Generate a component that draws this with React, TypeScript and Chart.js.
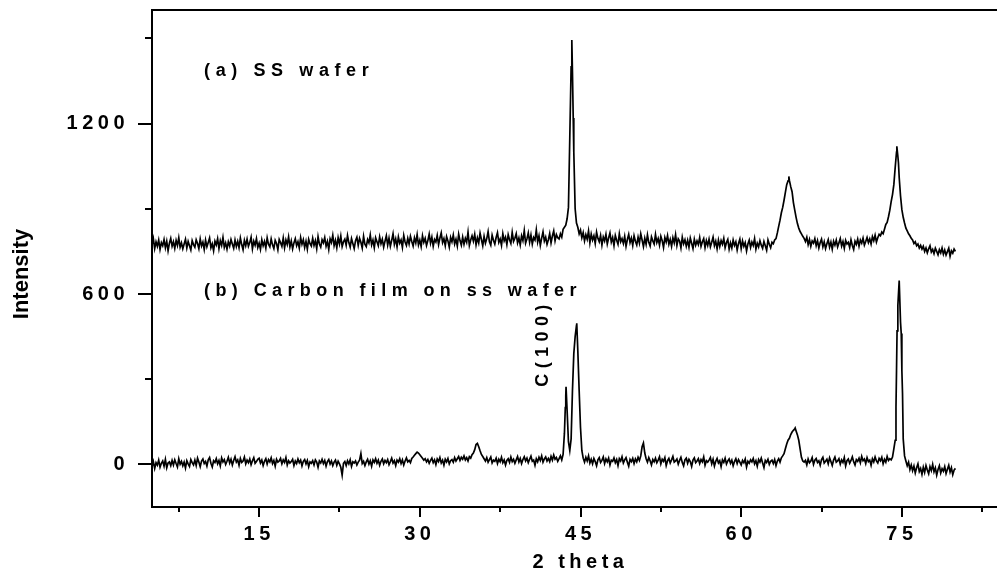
import React, { useEffect, useRef } from 'react';
import { Chart, registerables } from 'chart.js';

Chart.register(...registerables);

const FONT = '"Liberation Sans", Arial, Helvetica, sans-serif';

// 2-theta scan grid (degrees)
const scanAngles = [
  5, 5.125, 5.25, 5.375, 5.5, 5.625, 5.75, 5.875,
  6, 6.125, 6.25, 6.375, 6.5, 6.625, 6.75, 6.875,
  7, 7.125, 7.25, 7.375, 7.5, 7.625, 7.75, 7.875,
  8, 8.125, 8.25, 8.375, 8.5, 8.625, 8.75, 8.875,
  9, 9.125, 9.25, 9.375, 9.5, 9.625, 9.75, 9.875,
  10, 10.125, 10.25, 10.375, 10.5, 10.625, 10.75, 10.875,
  11, 11.125, 11.25, 11.375, 11.5, 11.625, 11.75, 11.875,
  12, 12.125, 12.25, 12.375, 12.5, 12.625, 12.75, 12.875,
  13, 13.125, 13.25, 13.375, 13.5, 13.625, 13.75, 13.875,
  14, 14.125, 14.25, 14.375, 14.5, 14.625, 14.75, 14.875,
  15, 15.125, 15.25, 15.375, 15.5, 15.625, 15.75, 15.875,
  16, 16.125, 16.25, 16.375, 16.5, 16.625, 16.75, 16.875,
  17, 17.125, 17.25, 17.375, 17.5, 17.625, 17.75, 17.875,
  18, 18.125, 18.25, 18.375, 18.5, 18.625, 18.75, 18.875,
  19, 19.125, 19.25, 19.375, 19.5, 19.625, 19.75, 19.875,
  20, 20.125, 20.25, 20.375, 20.5, 20.625, 20.75, 20.875,
  21, 21.125, 21.25, 21.375, 21.5, 21.625, 21.75, 21.875,
  22, 22.125, 22.25, 22.375, 22.5, 22.625, 22.75, 22.875,
  23, 23.125, 23.25, 23.375, 23.5, 23.625, 23.75, 23.875,
  24, 24.125, 24.25, 24.375, 24.5, 24.625, 24.75, 24.875,
  25, 25.125, 25.25, 25.375, 25.5, 25.625, 25.75, 25.875,
  26, 26.125, 26.25, 26.375, 26.5, 26.625, 26.75, 26.875,
  27, 27.125, 27.25, 27.375, 27.5, 27.625, 27.75, 27.875,
  28, 28.125, 28.25, 28.375, 28.5, 28.625, 28.75, 28.875,
  29, 29.125, 29.25, 29.375, 29.5, 29.625, 29.75, 29.875,
  30, 30.125, 30.25, 30.375, 30.5, 30.625, 30.75, 30.875,
  31, 31.125, 31.25, 31.375, 31.5, 31.625, 31.75, 31.875,
  32, 32.125, 32.25, 32.375, 32.5, 32.625, 32.75, 32.875,
  33, 33.125, 33.25, 33.375, 33.5, 33.625, 33.75, 33.875,
  34, 34.125, 34.25, 34.375, 34.5, 34.625, 34.75, 34.875,
  35, 35.125, 35.25, 35.375, 35.5, 35.625, 35.75, 35.875,
  36, 36.125, 36.25, 36.375, 36.5, 36.625, 36.75, 36.875,
  37, 37.125, 37.25, 37.375, 37.5, 37.625, 37.75, 37.875,
  38, 38.125, 38.25, 38.375, 38.5, 38.625, 38.75, 38.875,
  39, 39.125, 39.25, 39.375, 39.5, 39.625, 39.75, 39.875,
  40, 40.125, 40.25, 40.375, 40.5, 40.625, 40.75, 40.875,
  41, 41.125, 41.25, 41.375, 41.5, 41.625, 41.75, 41.875,
  42, 42.125, 42.25, 42.375, 42.5, 42.625, 42.75, 42.875,
  43, 43.125, 43.25, 43.375, 43.5, 43.625, 43.75, 43.875,
  44, 44.125, 44.25, 44.375, 44.5, 44.625, 44.75, 44.875,
  45, 45.125, 45.25, 45.375, 45.5, 45.625, 45.75, 45.875,
  46, 46.125, 46.25, 46.375, 46.5, 46.625, 46.75, 46.875,
  47, 47.125, 47.25, 47.375, 47.5, 47.625, 47.75, 47.875,
  48, 48.125, 48.25, 48.375, 48.5, 48.625, 48.75, 48.875,
  49, 49.125, 49.25, 49.375, 49.5, 49.625, 49.75, 49.875,
  50, 50.125, 50.25, 50.375, 50.5, 50.625, 50.75, 50.875,
  51, 51.125, 51.25, 51.375, 51.5, 51.625, 51.75, 51.875,
  52, 52.125, 52.25, 52.375, 52.5, 52.625, 52.75, 52.875,
  53, 53.125, 53.25, 53.375, 53.5, 53.625, 53.75, 53.875,
  54, 54.125, 54.25, 54.375, 54.5, 54.625, 54.75, 54.875,
  55, 55.125, 55.25, 55.375, 55.5, 55.625, 55.75, 55.875,
  56, 56.125, 56.25, 56.375, 56.5, 56.625, 56.75, 56.875,
  57, 57.125, 57.25, 57.375, 57.5, 57.625, 57.75, 57.875,
  58, 58.125, 58.25, 58.375, 58.5, 58.625, 58.75, 58.875,
  59, 59.125, 59.25, 59.375, 59.5, 59.625, 59.75, 59.875,
  60, 60.125, 60.25, 60.375, 60.5, 60.625, 60.75, 60.875,
  61, 61.125, 61.25, 61.375, 61.5, 61.625, 61.75, 61.875,
  62, 62.125, 62.25, 62.375, 62.5, 62.625, 62.75, 62.875,
  63, 63.125, 63.25, 63.375, 63.5, 63.625, 63.75, 63.875,
  64, 64.125, 64.25, 64.375, 64.5, 64.625, 64.75, 64.875,
  65, 65.125, 65.25, 65.375, 65.5, 65.625, 65.75, 65.875,
  66, 66.125, 66.25, 66.375, 66.5, 66.625, 66.75, 66.875,
  67, 67.125, 67.25, 67.375, 67.5, 67.625, 67.75, 67.875,
  68, 68.125, 68.25, 68.375, 68.5, 68.625, 68.75, 68.875,
  69, 69.125, 69.25, 69.375, 69.5, 69.625, 69.75, 69.875,
  70, 70.125, 70.25, 70.375, 70.5, 70.625, 70.75, 70.875,
  71, 71.125, 71.25, 71.375, 71.5, 71.625, 71.75, 71.875,
  72, 72.125, 72.25, 72.375, 72.5, 72.625, 72.75, 72.875,
  73, 73.125, 73.25, 73.375, 73.5, 73.625, 73.75, 73.875,
  74, 74.125, 74.25, 74.375, 74.5, 74.625, 74.75, 74.875,
  75, 75.125, 75.25, 75.375, 75.5, 75.625, 75.75, 75.875,
  76, 76.125, 76.25, 76.375, 76.5, 76.625, 76.75, 76.875,
  77, 77.125, 77.25, 77.375, 77.5, 77.625, 77.75, 77.875,
  78, 78.125, 78.25, 78.375, 78.5, 78.625, 78.75, 78.875,
  79, 79.125, 79.25, 79.375, 79.5, 79.625, 79.75, 79.875,
  80,
];

// (a) SS wafer intensity on the scan grid
const ssWaferIntensity = [
  772, 795, 760, 784, 768, 790, 757, 781,
  770, 792, 763, 786, 752, 779, 796, 768,
  784, 761, 789, 771, 798, 765, 780, 759,
  776, 793, 762, 785, 770, 755, 788, 774,
  765, 791, 778, 760, 794, 769, 783, 757,
  790, 766, 781, 797, 763, 777, 752, 786,
  773, 795, 760, 788, 771, 799, 764, 780,
  758, 784, 769, 792, 776, 761, 790, 767,
  785, 763, 797, 774, 756, 789, 770, 793,
  768, 781, 800, 759, 786, 772, 795, 764,
  779, 757, 791, 770, 785, 762, 798, 775,
  766, 794, 773, 760, 789, 778, 756, 792,
  781, 768, 797, 763, 790, 774, 801, 766,
  787, 759, 780, 795, 770, 784, 762, 799,
  775, 791, 764, 786, 758, 793, 777, 769,
  796, 771, 788, 760, 802, 776, 765, 791,
  780, 799, 768, 785, 757, 794, 781, 807,
  770, 789, 763, 798, 776, 804, 767, 784,
  793, 772, 806, 781, 765, 795, 778, 760,
  788, 800, 771, 796, 782, 762, 803, 775,
  767, 792, 780, 808, 773, 790, 763, 798,
  784, 770, 801, 777, 793, 765, 786, 805,
  772, 797, 768, 789, 812, 775, 794, 766,
  801, 779, 790, 764, 806, 783, 771, 796,
  776, 803, 785, 769, 798, 780, 809, 773,
  790, 767, 805, 782, 796, 771, 788, 811,
  779, 800, 768, 792, 783, 806, 774, 797,
  815, 781, 795, 770, 802, 787, 765, 799,
  784, 808, 776, 793, 769, 811, 788, 772,
  800, 775, 796, 782, 818, 771, 790, 805,
  786, 810, 773, 798, 780, 814, 792, 770,
  803, 779, 795, 820, 784, 772, 807, 789,
  776, 799, 816, 782, 794, 771, 812, 787,
  800, 774, 809, 791, 778, 817, 785, 796,
  812, 780, 797, 773, 805, 788, 823, 779,
  794, 815, 782, 808, 776, 799, 790, 826,
  783, 805, 771, 797, 819, 786, 800, 775,
  791, 813, 780, 804, 822, 787, 809, 798,
  794, 812, 800, 828, 835, 842, 865, 905,
  1150, 1400, 1380, 1100, 900, 850, 835, 812,
  825, 798, 816, 787, 809, 793, 822, 780,
  811, 790, 805, 778, 818, 796, 784, 806,
  772, 801, 787, 810, 776, 797, 815, 783,
  799, 770, 806, 789, 775, 812, 784, 795,
  778, 803, 768, 792, 810, 781, 797, 771,
  805, 786, 773, 800, 779, 812, 790, 767,
  796, 775, 808, 782, 769, 801, 787, 776,
  810, 781, 795, 772, 803, 788, 764, 799,
  783, 806, 775, 792, 768, 798, 780, 809,
  771, 794, 786, 762, 800, 777, 791, 768,
  789, 765, 797, 779, 760, 793, 772, 787,
  774, 799, 768, 784, 795, 763, 788, 771,
  793, 766, 782, 800, 770, 786, 759, 790,
  767, 788, 775, 796, 763, 781, 792, 758,
  780, 762, 790, 771, 784, 755, 778, 793,
  760, 787, 768, 781, 752, 776, 790, 764,
  783, 771, 795, 758, 779, 766, 788, 772,
  761, 785, 770, 754, 790, 775, 763, 782,
  777, 790, 795, 815, 838, 860, 886, 905,
  930, 958, 985, 998, 1000, 978, 960, 922,
  895, 870, 848, 832, 820, 812, 803, 796,
  785, 800, 774, 792, 768, 787, 779, 795,
  770, 788, 762, 781, 793, 766, 784, 760,
  777, 791, 765, 783, 758, 786, 772, 790,
  766, 780, 795, 769, 785, 761, 789, 776,
  782, 764, 791, 771, 757, 786, 775, 793,
  768, 790, 779, 797, 772, 785, 799, 781,
  794, 776, 802, 788, 807, 783, 798, 810,
  805, 818, 812, 828, 845, 852, 872, 895,
  925, 950, 985, 1045, 1100, 1085, 1010, 945,
  897, 870, 850, 832, 822, 812, 805, 796,
  790, 778, 784, 770, 776, 762, 771, 758,
  768, 750, 762, 745, 759, 770, 748, 757,
  742, 761, 750, 738, 756, 745, 762, 740,
  755, 737, 749, 761, 733, 752, 744, 758,
  750,
];

// (b) Carbon film on ss wafer intensity on the scan grid
const carbonFilmIntensity = [
  -8, 10, -14, 6, -3, 15, -10, 4,
  12, -6, 18, -12, 5, 9, -4, 14,
  -2, 16, 3, -9, 20, 1, 11, -5,
  8, -13, 13, 2, -7, 17, 6, -2,
  15, -4, 22, 8, -8, 12, 19, 3,
  10, -6, 16, 24, 4, -9, 13, 7,
  20, 2, 14, -5, 23, 9, 17, 0,
  11, 25, 5, 18, -2, 14, 27, 8,
  16, -3, 21, 7, 12, 26, 2, 15,
  6, 19, -1, 13, 24, 4, 10, 18,
  22, 5, 15, -4, 11, 20, 1, 17,
  9, 23, 3, 14, -6, 18, 8, 12,
  21, 2, 16, 7, 24, -2, 13, 5,
  10, 18, -4, 12, 3, 19, 6, 15,
  -5, 11, 17, 2, 14, -8, 9, 4,
  13, -2, 16, 8, -10, 12, 5, 18,
  3, 14, -6, 10, 17, 1, 12, -4,
  8, 15, -3, 11, 2, -10, -38, 4,
  10, -4, 13, 2, 16, -7, 9, 5,
  12, -2, 8, 15, 38, 3, 11, -4,
  9, 18, 1, 13, -6, 16, 7, 20,
  4, 15, -3, 11, 19, 2, 14, 6,
  17, -1, 10, 22, 5, 13, -4, 15,
  8, 20, 3, 16, -2, 12, 23, 9,
  14, 6, 21, 26, 32, 38, 43, 40,
  34, 28, 22, 15, 20, 9, 17, 4,
  14, 22, 6, 16, -1, 19, 10, 24,
  5, 15, -3, 18, 9, 21, 2, 13,
  17, 8, 24, 12, 20, 28, 14, 25,
  18, 30, 16, 24, 12, 27, 22, 34,
  40, 52, 70, 74, 62, 48, 35, 28,
  20, 12, 24, 8, 17, 26, 5, 15,
  11, 22, 3, 18, 9, 25, 6, 16,
  -2, 14, 20, 7, 26, 10, 18, 4,
  16, 28, 9, 21, 3, 17, 27, 12,
  22, 6, 18, 29, 11, 15, -3, 20,
  9, 25, 14, 30, 8, 19, 26, 12,
  21, 10, 28, 15, 33, 18, 24, 11,
  20, 30, 16, 35, 110, 240, 190, 80,
  49, 90, 260, 390, 450, 490, 400, 260,
  130, 49, 22, 8, 25, 12, 30, 5,
  18, 2, 21, 10, -5, 16, 24, 7,
  14, 26, 3, 19, 9, 22, -2, 15,
  11, 23, 6, 17, -4, 20, 12, 27,
  5, 16, 24, 8, -6, 18, 10, 21,
  3, 19, 9, 25, 14, 30, 62, 75,
  40, 20, 8, 24, 13, -2, 17, 9,
  22, 6, 15, 27, 2, 18, 11, 24,
  -4, 13, 21, 5, 16, 28, 8, 12,
  19, 1, 14, 25, 7, -5, 16, 22,
  4, 18, 10, -7, 15, 23, 6, 12,
  20, 3, 17, 9, 26, -3, 13, 8,
  15, 24, 2, 18, -6, 11, 21, 5,
  13, -8, 16, 7, 22, 1, 12, 19,
  4, 15, -5, 10, 20, 3, 17, 8,
  -2, 14, 6, 19, -9, 11, 4, 16,
  9, 21, 2, 13, -6, 17, 8, 22,
  5, -11, 14, 7, 18, 0, 11, 15,
  3, 17, -4, 12, 20, 8, 23, 30,
  38, 55, 72, 85, 92, 105, 114, 120,
  125, 118, 104, 85, 55, 25, 12, 8,
  14, -2, 19, 6, 12, 24, 0, 15,
  21, 7, 13, -3, 17, 25, 5, 11,
  18, 2, 23, 10, -4, 15, 26, 8,
  12, 20, 1, 16, 7, 24, -5, 13,
  19, 4, 14, 27, 9, -2, 17, 11,
  22, 6, 28, 13, 19, 3, 24, 10,
  15, -3, 20, 9, 26, 12, 5, 21,
  13, 25, 2, 18, 8, 28, 14, 20,
  16, 26, 55, 85, 330, 560, 647, 500,
  330, 90, 30, 12, -5, 8, -18, -2,
  -22, -6, -30, -12, 2, -25, -14, -35,
  -10, -28, -4, -20, -33, -8, -22, 0,
  -26, -12, -38, -18, -5, -30, -15, -24,
  -8, -32, -17, -3, -27, -12, -36, -20,
  -14,
];

// extra points read at the peak tops
const ssWaferPeakAngles = [44.19, 44.32, 64.45, 74.53, 74.68];
const ssWaferPeakIntensity = [1494, 1220, 1014, 1120, 1062];

const carbonPeakAngles = [43.58, 43.65, 44.65, 65.04, 74.45, 74.55, 74.94, 75.06];
const carbonPeakIntensity = [200, 273, 497, 128, 200, 470, 461, 250];

const xMajorTicks = [15, 30, 45, 60, 75];
const xMinorTicks = [7.5, 22.5, 37.5, 52.5, 67.5, 82.5];
const yMajorTicks = [0, 600, 1200];
const yMinorTicks = [300, 900, 1500];

const xTitle = '2 theta';
const yTitle = 'Intensity';
const labelA = '(a) SS wafer';
const labelB = '(b) Carbon film on ss wafer';
const peakLabel = 'C(100)';

function buildSeries(grid: number[], values: number[], px: number[], py: number[]) {
  const pts = grid.map((x, i) => ({ x, y: values[i] }));
  px.forEach((x, i) => pts.push({ x, y: py[i] }));
  pts.sort((a, b) => a.x - b.x);
  return pts;
}

const CANVAS_W = 1009;
const CANVAS_H = 580;

const textPlugin = {
  id: 'xrdText',
  beforeDraw(chart: any) {
    chart.ctx.letterSpacing = '4.5px';
  },
  afterDatasetsDraw(chart: any) {
    const { ctx, scales } = chart;
    const xs = scales.x;
    const ys = scales.y;
    ctx.save();
    ctx.fillStyle = '#000';
    ctx.font = `bold 18px ${FONT}`;
    ctx.letterSpacing = '5.6px';
    ctx.textBaseline = 'middle';
    ctx.textAlign = 'left';
    ctx.fillText(labelA, xs.getPixelForValue(9.86), ys.getPixelForValue(1385));
    ctx.letterSpacing = '5.4px';
    ctx.fillText(labelB, xs.getPixelForValue(9.86), ys.getPixelForValue(612));
    ctx.save();
    ctx.translate(xs.getPixelForValue(41.5), ys.getPixelForValue(418));
    ctx.rotate(-Math.PI / 2);
    ctx.textAlign = 'center';
    ctx.fillText(peakLabel, 2.7, 0);
    ctx.restore();
    ctx.save();
    ctx.letterSpacing = '0px';
    ctx.font = `bold 22px ${FONT}`;
    ctx.translate(22, 274);
    ctx.rotate(-Math.PI / 2);
    ctx.textAlign = 'center';
    ctx.fillText(yTitle, 0, 0);
    ctx.restore();
    ctx.restore();
  },
};

const zeroPad = (s: any) => {
  s.paddingTop = 0;
  s.paddingBottom = 0;
  s.paddingLeft = 0;
  s.paddingRight = 0;
};

export default function App() {
  const ref = useRef<HTMLCanvasElement | null>(null);

  useEffect(() => {
    if (!ref.current) return;
    const tickFont = { family: FONT, size: 20, weight: 'bold' as const };
    const axisLine = { display: true, color: '#000', width: 2 };
    const plain = (v: any) => String(v);
    const chart = new Chart(ref.current, {
      type: 'line',
      data: {
        datasets: [
          {
            label: labelA,
            data: buildSeries(scanAngles, ssWaferIntensity, ssWaferPeakAngles, ssWaferPeakIntensity),
            borderColor: '#000',
            borderWidth: 1.7,
            pointRadius: 0,
            tension: 0,
            fill: false,
            xAxisID: 'x',
            yAxisID: 'y',
          },
          {
            label: labelB,
            data: buildSeries(scanAngles, carbonFilmIntensity, carbonPeakAngles, carbonPeakIntensity),
            borderColor: '#000',
            borderWidth: 1.7,
            pointRadius: 0,
            tension: 0,
            fill: false,
            xAxisID: 'x',
            yAxisID: 'y',
          },
        ],
      },
      options: {
        animation: false,
        responsive: false,
        devicePixelRatio: 1,
        layout: { padding: { top: 10, right: 0, bottom: 0, left: 0 } },
        plugins: { legend: { display: false }, tooltip: { enabled: false } },
        events: [],
        scales: {
          x: {
            type: 'linear',
            position: 'bottom',
            weight: 1,
            min: 5,
            max: 85,
            afterBuildTicks: (a: any) => { a.ticks = xMajorTicks.map((v) => ({ value: v })); },
            afterFit: (s: any) => { s.height = 73; zeroPad(s); },
            grid: { display: true, drawOnChartArea: false, drawTicks: true, tickLength: 10, color: '#000', lineWidth: 2 },
            border: axisLine,
            ticks: { autoSkip: false, maxRotation: 0, color: '#000', font: tickFont, padding: 5, callback: plain },
            title: { display: true, text: xTitle, color: '#000', font: tickFont, padding: { top: 0, bottom: 6 } },
          },
          xMinor: {
            type: 'linear',
            position: 'bottom',
            weight: 0,
            min: 5,
            max: 85,
            afterBuildTicks: (a: any) => { a.ticks = xMinorTicks.map((v) => ({ value: v })); },
            afterFit: (s: any) => { s.height = 0; zeroPad(s); },
            grid: { display: true, drawOnChartArea: false, drawTicks: true, tickLength: 5, color: '#000', lineWidth: 2 },
            border: axisLine,
            ticks: { autoSkip: false, callback: () => '' },
          },
          xTop: {
            type: 'linear',
            position: 'top',
            min: 5,
            max: 85,
            afterFit: (s: any) => { s.height = 0; zeroPad(s); },
            grid: { display: false },
            border: axisLine,
            ticks: { display: false },
          },
          y: {
            type: 'linear',
            position: 'left',
            weight: 1,
            min: -150,
            max: 1600,
            afterBuildTicks: (a: any) => { a.ticks = yMajorTicks.map((v) => ({ value: v })); },
            afterFit: (s: any) => { s.width = 152; zeroPad(s); },
            grid: { display: true, drawOnChartArea: false, drawTicks: true, tickLength: 14, color: '#000', lineWidth: 2 },
            border: axisLine,
            ticks: { autoSkip: false, color: '#000', font: tickFont, padding: 9, callback: plain },
          },
          yMinor: {
            type: 'linear',
            position: 'left',
            weight: 0,
            min: -150,
            max: 1600,
            afterBuildTicks: (a: any) => { a.ticks = yMinorTicks.map((v) => ({ value: v })); },
            afterFit: (s: any) => { s.width = 0; zeroPad(s); },
            grid: { display: true, drawOnChartArea: false, drawTicks: true, tickLength: 7, color: '#000', lineWidth: 2 },
            border: axisLine,
            ticks: { autoSkip: false, callback: () => '' },
          },
        },
      } as any,
      plugins: [textPlugin],
    });
    return () => chart.destroy();
  }, []);

  return (
    <div style={{ position: 'fixed', left: 0, top: 0, width: 997, height: 580, overflow: 'hidden', background: '#fff' }}>
      <canvas
        ref={ref}
        width={CANVAS_W}
        height={CANVAS_H}
        style={{ display: 'block', width: CANVAS_W, height: CANVAS_H }}
      />
    </div>
  );
}
